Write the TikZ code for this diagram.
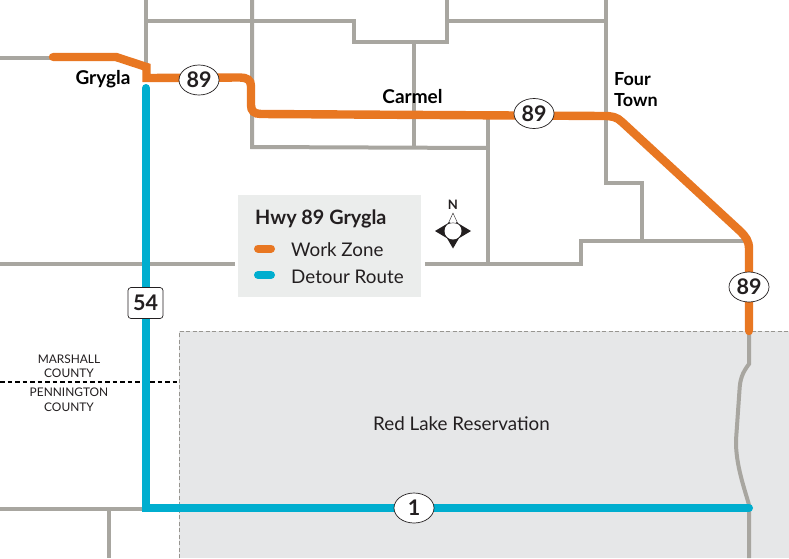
\documentclass[tikz,border=0pt]{standalone}
\usepackage{fontspec}
\setmainfont{Lato}
\usetikzlibrary{shapes.geometric}
\definecolor{roadgrey}{HTML}{A8A6A0}
\definecolor{workorange}{HTML}{E87722}
\definecolor{detourblue}{HTML}{00AECF}
\definecolor{resgrey}{HTML}{E6E7E8}
\definecolor{legendgrey}{HTML}{EBEDEC}
\definecolor{inkblack}{HTML}{231F20}
\tikzset{
  road/.style={draw=roadgrey,line width=4pt,line join=miter},
  work/.style={draw=workorange,line width=8.4pt,line join=miter},
  detour/.style={draw=detourblue,line width=8pt,line join=miter},
  hwyoval/.style={ellipse,draw=inkblack,line width=0.7pt,fill=white,minimum width=40pt,minimum height=30pt,inner sep=0pt,text=inkblack,font=\fontsize{21.5}{21.5}\selectfont\bfseries},
  hwybox/.style={rectangle,rounded corners=3pt,draw=inkblack,line width=0.7pt,fill=white,minimum width=35pt,minimum height=31pt,inner sep=0pt,text=inkblack,font=\fontsize{21.5}{21.5}\selectfont\bfseries},
  place/.style={text=black,font=\fontsize{19}{20}\selectfont\bfseries,inner sep=0pt},
  county/.style={text=inkblack,font=\fontsize{11.9}{11.9}\selectfont,inner sep=0pt},
  legendtext/.style={anchor=west,text=inkblack,inner sep=0pt,font=\fontsize{18.8}{18.8}\selectfont},
  swatch/.style={line width=8pt,line cap=round}
}
\begin{document}
\begin{tikzpicture}[x=1pt,y=-1pt]
\useasboundingbox (0,0) rectangle (789,558);
\fill[white] (0,0) rectangle (789,558);
% reservation
\fill[resgrey] (179,331) rectangle (789,558);
\draw[roadgrey!90!black,line width=0.7pt,dash pattern=on 4pt off 2.5pt] (179,558) -- (179,331) -- (789,331);
% county line
\draw[black,line width=1.5pt,dash pattern=on 4.5pt off 3pt] (0,382) -- (179,382);
% roads
\draw[road] (0,58) -- (50,58);
\draw[road] (146,0) -- (146,72);
\draw[road] (146,21) -- (354,21) -- (354,41.5) -- (447,41.5) -- (447,0);
\draw[road] (447,21) -- (606,21);
\draw[road] (252,0) -- (252,147) -- (488,148);
\draw[road] (414,41.5) -- (414,147);
\draw[road] (488,115) -- (488,264);
\draw[road] (606,0) -- (606,183) -- (642,183) -- (642,241);
\draw[road] (0,264) -- (581,264) -- (581,241) -- (745,241);
\draw[road] (0,509) -- (146,509);
\draw[road] (109,509) -- (109,558);
\draw[road] (749,331) -- (749,364) .. controls (742,373) and (740,380) .. (739.5,390) -- (736,440) .. controls (735.5,465) and (745,490) .. (749,505) -- (749,558);
% work zone
\draw[work,line cap=round] (53,57) -- (55,57);
\draw[work,line cap=round] (749,329) -- (749,331);
\draw[work] (53,57) -- (116,57) -- (146.5,67) -- (146.5,78) -- (240,77.5) .. controls (247,77.5) and (251,80) .. (251,86) -- (251,105) .. controls (251,111) and (254,114) .. (261,114) -- (604,116) .. controls (612,116) and (617,117) .. (622,122) -- (740,231) .. controls (746,237) and (749,241) .. (749,249) -- (749,330);
% detour
\draw[detour,line cap=round] (146,88) -- (146,90);
\draw[detour,line cap=round] (748,508) -- (749,508);
\draw[detour] (146,88) -- (146,508) -- (748,508);
% legend
\fill[white] (234.5,191.5) rectangle (424.5,300.5);
\fill[legendgrey] (238,195) rectangle (421,297);
\node[legendtext,font=\fontsize{19.8}{19.8}\selectfont\bfseries] (legendtitle) at (255,219) {Hwy 89 Grygla};
\draw[swatch,workorange] (258,248.5) -- (271,248.5);
\draw[swatch,detourblue] (258,275) -- (271,275);
\node[legendtext] (workzone) at (291,249.5) {Work Zone};
\node[legendtext] (detourroute) at (291,276.5) {Detour Route};
% compass
\fill[inkblack] (435,231) -- (450,222) -- (450,240) -- cycle;
\fill[inkblack] (471,231) -- (456,222) -- (456,240) -- cycle;
\fill[inkblack] (453,248.5) -- (444,233) -- (462,233) -- cycle;
\fill[white] (453,231) circle (8.5);
\draw[inkblack,line width=0.4pt] (448,224) -- (453,213) -- (458,224) .. controls (455,222.5) and (451,222.5) .. (448,224);
\node[text=inkblack,inner sep=0pt,font=\fontsize{13}{13}\selectfont\bfseries] (north) at (453,205) {N};
% shields
\node[hwyoval] (h89a) at (199,80) {89};
\node[hwyoval] (h89b) at (534,113.5) {89};
\node[hwyoval] (h89c) at (749,287) {89};
\node[hwyoval] (h1) at (414,508) {1};
\node[hwybox] (h54) at (145.5,303) {54};
% labels
\node[place] (grygla) at (103,79) {Grygla};
\node[place] (carmel) at (412.5,97) {Carmel};
\node[place,anchor=west,font=\fontsize{18}{20}\selectfont\bfseries] (four) at (614,79.5) {Four};
\node[place,anchor=west,font=\fontsize{18}{20}\selectfont\bfseries] (town) at (614,100.5) {Town};
\node[text=inkblack,inner sep=0pt,font=\fontsize{18.8}{18.8}\selectfont] (redlake) at (461.5,424) {Red Lake Reservation};
\node[county] (m1) at (69,359) {MARSHALL};
\node[county] (m2) at (69,373) {COUNTY};
\node[county] (p1) at (69,392) {PENNINGTON};
\node[county] (p2) at (69,407) {COUNTY};
\end{tikzpicture}
\end{document}
